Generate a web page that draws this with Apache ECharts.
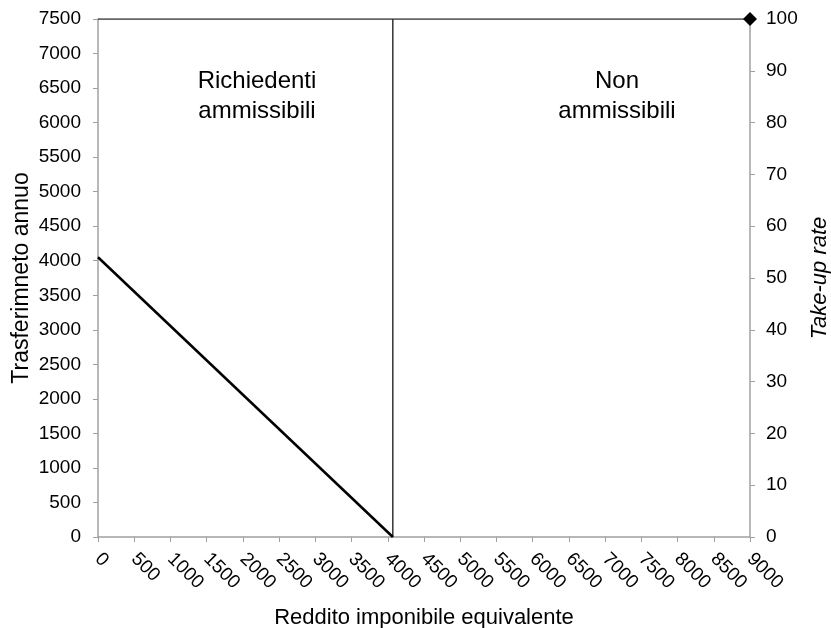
<!DOCTYPE html>
<html>
<head>
<meta charset="utf-8">
<script src="https://cdn.jsdelivr.net/npm/echarts@6/dist/echarts.min.js"></script>
<style>html,body{margin:0;padding:0;background:#fff;overflow:hidden}#c{width:831px;height:628px}</style>
</head>
<body>
<div id="c"></div>
<script>
var transferX = [0, 4070];
var transferY = [4050, 0];
var thresholdX = [4070, 4070];
var thresholdY = [0, 7500];
var takeUpX = [0, 9000];
var takeUpY = [100, 100];
var regionLabels = ["Richiedenti\nammissibili", "Non\nammissibili"];

function pairs(xs, ys){ return xs.map(function(x,i){ return [x, ys[i]]; }); }
function plain(v){ return String(v); }

var chart = echarts.init(document.getElementById('c'));
var font = '"Liberation Sans", Arial, sans-serif';
var axisGray = '#a0a0a0';
var takeUpData = pairs(takeUpX, takeUpY).map(function(p, i){
  return i === takeUpX.length - 1 ? {value: p} : {value: p, symbol: 'none'};
});
chart.setOption({
  animation: false,
  textStyle: {fontFamily: font},
  grid: {left: 98, right: 81, top: 19, bottom: 91, containLabel: false, outerBoundsMode: 'none'},
  xAxis: {
    type: 'value', min: 0, max: 9000, interval: 500,
    name: 'Reddito imponibile equivalente', nameLocation: 'middle', nameGap: 70,
    nameTextStyle: {fontSize: 22, color: '#000', fontFamily: font},
    axisLine: {lineStyle: {color: axisGray, width: 1.5}},
    axisTick: {show: true, length: 5, lineStyle: {color: axisGray}},
    axisLabel: {rotate: -45, fontSize: 19, color: '#000', margin: 19, fontFamily: font, formatter: plain},
    splitLine: {show: false}
  },
  yAxis: [{
    type: 'value', min: 0, max: 7500, interval: 500,
    name: 'Trasferimneto annuo', nameLocation: 'middle', nameGap: 65, nameMoveOverlap: false,
    nameTextStyle: {fontSize: 23, color: '#000', fontFamily: font},
    axisLine: {show: true, lineStyle: {color: axisGray, width: 1.5}},
    axisTick: {show: true, length: 5, lineStyle: {color: axisGray}},
    axisLabel: {fontSize: 19, color: '#000', margin: 17, fontFamily: font, formatter: plain},
    splitLine: {show: false}
  }, {
    type: 'value', min: 0, max: 100, interval: 10, position: 'right',
    name: 'Take-up rate', nameLocation: 'middle', nameGap: 54,
    nameTextStyle: {fontSize: 22, color: '#000', fontStyle: 'italic', fontFamily: font},
    axisLine: {show: true, lineStyle: {color: axisGray, width: 1.5}},
    axisTick: {show: true, length: 5, lineStyle: {color: axisGray}},
    axisLabel: {fontSize: 19, color: '#000', margin: 16, fontFamily: font, formatter: plain},
    splitLine: {show: false}
  }],
  series: [{
    type: 'line', yAxisIndex: 1, data: takeUpData,
    lineStyle: {color: '#333', width: 1.5},
    symbol: 'diamond', symbolSize: 14, showSymbol: true,
    itemStyle: {color: '#000'},
    z: 5
  }, {
    type: 'line', data: pairs(thresholdX, thresholdY),
    lineStyle: {color: '#000', width: 1.2}, symbol: 'none', z: 4
  }, {
    type: 'line', data: pairs(transferX, transferY),
    lineStyle: {color: '#000', width: 2.5}, symbol: 'none', z: 6
  }],
  graphic: [{
    type: 'text', x: 257, y: 66,
    style: {text: regionLabels[0], textAlign: 'center', font: '24px ' + font, fill: '#000', lineHeight: 30}
  }, {
    type: 'text', x: 617, y: 66,
    style: {text: regionLabels[1], textAlign: 'center', font: '24px ' + font, fill: '#000', lineHeight: 30}
  }]
});
</script>
</body>
</html>
